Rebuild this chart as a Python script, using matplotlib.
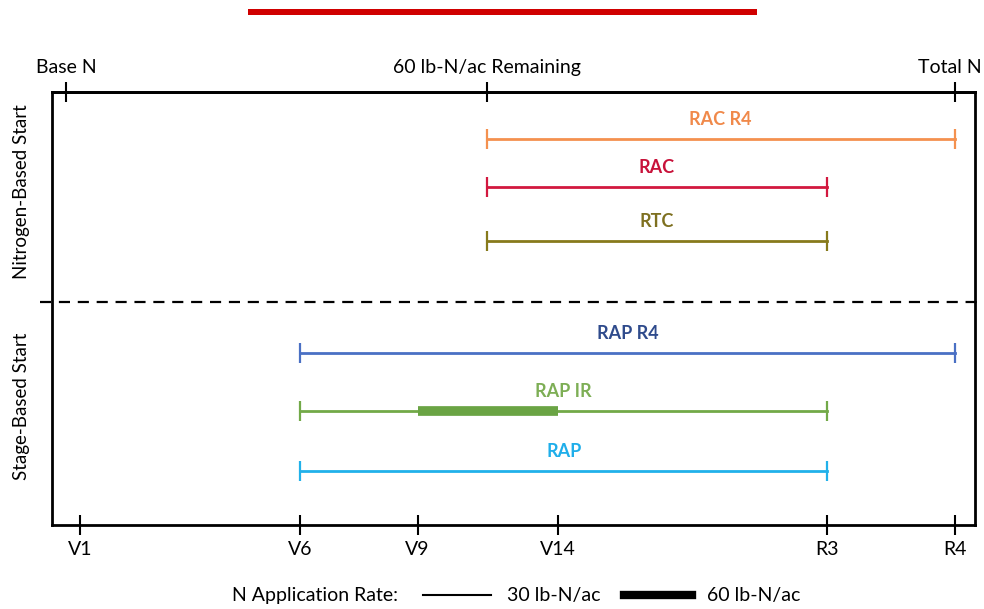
import matplotlib.pyplot as plt
import matplotlib.transforms as mtransforms
from matplotlib.lines import Line2D
from matplotlib.patches import Rectangle

# growth stages (bottom axis) and N milestones (top axis), 0-100 scale across the season
stage_names = ['V1', 'V6', 'V9', 'V14', 'R3', 'R4']
stage_pos = [3.0, 26.9, 39.6, 54.8, 84.0, 97.8]
n_names = ['Base N', '60 lb-N/ac Remaining', 'Total N']
n_pos = [1.5, 47.1, 97.8]

# treatments: name, start, end, row height
treatments = ['RAC R4', 'RAC', 'RTC', 'RAP R4', 'RAP IR', 'RAP']
starts = [47.1, 47.1, 47.1, 26.9, 26.9, 26.9]
ends = [97.8, 84.0, 84.0, 97.8, 84.0, 84.0]
rows = [89.1, 78.1, 65.6, 39.7, 26.3, 12.5]
line_colors = ['#F4914F', '#D2183F', '#877A1C', '#4A70C4', '#72A948', '#21B1EA']
label_colors = ['#F0894A', '#C8123A', '#7E7020', '#2F4B8C', '#7DAE55', '#1FAEEA']
# 60 lb-N/ac segment for RAP IR (V9 to V14)
heavy_start = 39.6
heavy_end = 54.8
heavy_row = 26.3
divider = 51.5

fig = plt.figure(figsize=(9.84, 6.09), dpi=100)
ax = fig.add_axes([52 / 984, 84 / 609, 923 / 984, 433 / 609])
ax.set_xlim(0, 100)
ax.set_ylim(0, 100)

for n, s, e, y, lc, tc in zip(treatments, starts, ends, rows, line_colors, label_colors):
    ax.plot([s, e], [y, y], color=lc, lw=2, marker='|', ms=14, mew=1.6)
    ax.text((s + e) / 2, y + 2.6, n, color=tc, ha='center', va='bottom',
            fontsize=13, fontweight='bold', family='Lato')

ax.plot([heavy_start, heavy_end], [heavy_row, heavy_row], color='#6AA444', lw=7,
        solid_capstyle='butt')

ax.plot([-1.3, 100.5], [divider, divider], color='black', lw=1.6, ls=(0, (5, 3.5)),
        clip_on=False)

for sp in ax.spines.values():
    sp.set_linewidth(2)

ax.set_xticks(stage_pos)
ax.set_xticklabels(stage_names, family='Lato', fontsize=14)
ax.set_yticks([])
ax.tick_params(axis='x', direction='inout', length=15, width=1.5, pad=4)

top = ax.secondary_xaxis('top')
top.set_xticks(n_pos)
top.set_xticklabels(n_names, family='Lato', fontsize=14)
top.tick_params(direction='inout', length=15, width=1.5, pad=4)
top.spines['top'].set_linewidth(2)
last = top.xaxis.get_majorticklabels()[-1]
last.set_transform(last.get_transform() +
                   mtransforms.ScaledTranslation(-5 / 100, 0, fig.dpi_scale_trans))

ax.text(-0.033, 0.769, 'Nitrogen-Based Start', transform=ax.transAxes, rotation=90,
        ha='center', va='center', fontsize=13.5, family='Lato')
ax.text(-0.033, 0.275, 'Stage-Based Start', transform=ax.transAxes, rotation=90,
        ha='center', va='center', fontsize=13.5, family='Lato')

# red bar above the chart
fig.add_artist(Rectangle((248 / 984, 1 - 15 / 609), 509 / 984, 6 / 609,
                         transform=fig.transFigure, color='#D00000', lw=0))

fig.text(315 / 984, 1 - 596 / 609, 'N Application Rate:', ha='center', va='center',
         family='Lato', fontsize=14)
handles = [Line2D([], [], color='black', lw=1.5), Line2D([], [], color='black', lw=6)]
fig.legend(handles, ['30 lb-N/ac', '60 lb-N/ac'], ncol=2, frameon=False, loc='center',
           bbox_to_anchor=(612 / 984, 1 - 596 / 609), prop={'family': 'Lato', 'size': 14},
           handlelength=3.5, handletextpad=0.8, columnspacing=1.2)

fig.savefig('out.png', dpi=100)
